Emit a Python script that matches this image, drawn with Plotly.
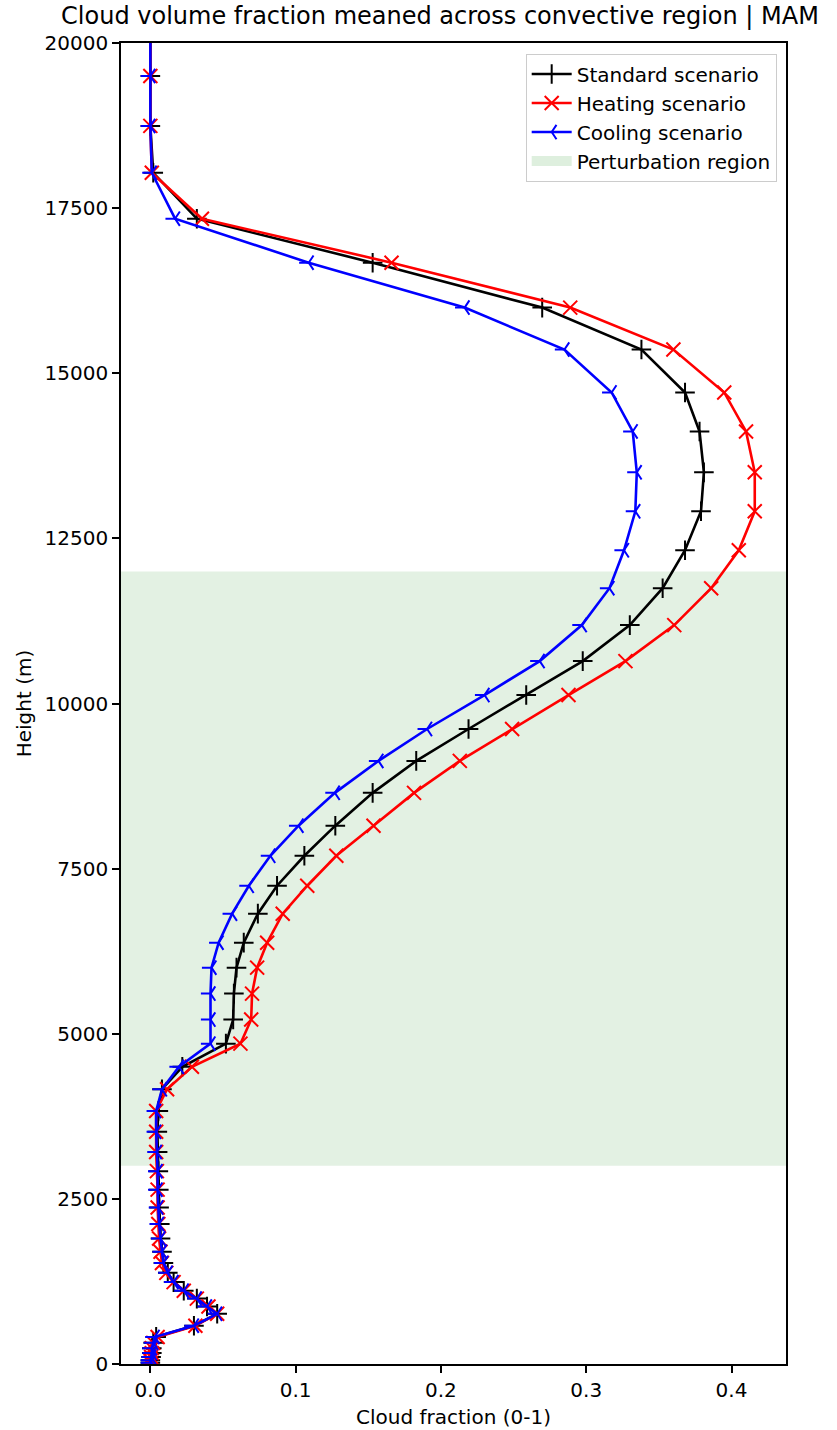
import plotly.graph_objects as go

# Heights of model levels (m)
heights = [20, 55, 105, 165, 240, 320, 410, 580, 760, 870, 990, 1110, 1240, 1380,
           1530, 1700, 1900, 2120, 2370, 2640, 2920, 3210, 3515, 3830, 4160, 4500,
           4850, 5215, 5608, 6001, 6379, 6818, 7241, 7695, 8150, 8647, 9131, 9614,
           10128, 10642, 11187, 11746, 12320, 12910, 13500, 14119, 14709, 15359,
           15994, 16674, 17340, 18035, 18745, 19501, 20250]

standard = [0.0, 0.0, 0.0005, 0.001, 0.001, 0.002, 0.004, 0.030, 0.046, 0.039, 0.032,
            0.023, 0.016, 0.012, 0.009, 0.008, 0.007, 0.0065, 0.006, 0.0058, 0.0055,
            0.005, 0.0048, 0.0055, 0.008, 0.022, 0.052, 0.057, 0.0575, 0.0593, 0.0643,
            0.074, 0.0872, 0.106, 0.1273, 0.153, 0.183, 0.219, 0.2587, 0.2976, 0.330,
            0.3526, 0.368, 0.379, 0.381, 0.378, 0.368, 0.338, 0.2697, 0.153, 0.032,
            0.002, 0.0, 0.0, 0.0]

heating = [0.0, 0.0, 0.0005, 0.001, 0.001, 0.002, 0.005, 0.031, 0.046, 0.040, 0.032,
           0.023, 0.016, 0.011, 0.008, 0.007, 0.006, 0.0055, 0.005, 0.005, 0.0045,
           0.004, 0.004, 0.004, 0.0115, 0.0286, 0.062, 0.0694, 0.070, 0.0735, 0.0804,
           0.0911, 0.108, 0.128, 0.1536, 0.1815, 0.213, 0.249, 0.2878, 0.327, 0.3606,
           0.386, 0.405, 0.416, 0.416, 0.410, 0.395, 0.360, 0.289, 0.166, 0.0355,
           0.001, 0.0, 0.0, 0.0]

cooling = [0.0, 0.0, 0.0005, 0.001, 0.001, 0.002, 0.003, 0.030, 0.046, 0.039, 0.032,
           0.023, 0.016, 0.012, 0.009, 0.008, 0.007, 0.006, 0.0055, 0.005, 0.005,
           0.0045, 0.004, 0.004, 0.008, 0.0197, 0.0414, 0.0414, 0.0414, 0.0421, 0.047,
           0.0563, 0.0678, 0.0826, 0.102, 0.127, 0.157, 0.1905, 0.230, 0.268, 0.297,
           0.316, 0.326, 0.3338, 0.3348, 0.332, 0.3175, 0.285, 0.2163, 0.109, 0.017,
           0.001, 0.0, 0.0, 0.0]

perturbation_bottom = 3000
perturbation_top = 12000

x_range = [-0.0202, 0.4375]
y_range = [0, 20000]
x_ticks = [0.0, 0.1, 0.2, 0.3, 0.4]
y_ticks = [0, 2500, 5000, 7500, 10000, 12500, 15000, 17500, 20000]

FONT = "DejaVu Sans"
GREEN = "rgba(0,128,0,0.11)"

fig = go.Figure()

# shaded perturbation band (legend entry drawn by a separate legend-only trace)
fig.add_trace(go.Scatter(
    x=[x_range[0], x_range[1], x_range[1], x_range[0], x_range[0]],
    y=[perturbation_bottom, perturbation_bottom, perturbation_top, perturbation_top, perturbation_bottom],
    fill="toself", fillcolor=GREEN, mode="lines",
    line=dict(width=0, color=GREEN), showlegend=False, hoverinfo="skip"))

fig.add_trace(go.Scatter(
    x=standard, y=heights, mode="lines+markers", name="Standard scenario",
    line=dict(color="black", width=2.6), legendrank=1,
    marker=dict(symbol="cross-thin", size=14, color="black",
                line=dict(color="black", width=2))))

fig.add_trace(go.Scatter(
    x=heating, y=heights, mode="lines+markers", name="Heating scenario",
    line=dict(color="red", width=2.6), legendrank=2,
    marker=dict(symbol="x-thin", size=14, color="red",
                line=dict(color="red", width=2))))

fig.add_trace(go.Scatter(
    x=cooling, y=heights, mode="lines+markers", name="Cooling scenario",
    line=dict(color="blue", width=2.6), legendrank=3,
    marker=dict(symbol="y-left", size=12, color="blue",
                line=dict(color="blue", width=2))))

fig.add_trace(go.Scatter(
    x=[None], y=[None], mode="lines", name="Perturbation region", legendrank=4,
    line=dict(width=13, color="rgba(0,128,0,0.13)"), hoverinfo="skip"))

axis_common = dict(
    showline=True, linecolor="black", linewidth=1.6, mirror=True,
    ticks="outside", ticklen=7, tickwidth=1.6, tickcolor="black",
    showgrid=False, zeroline=False,
    tickfont=dict(family=FONT, size=20, color="black"),
)

fig.update_xaxes(range=x_range, tickvals=x_ticks, tickformat=".1f",
                 title=dict(text="Cloud fraction (0-1)", font=dict(family=FONT, size=20, color="black"), standoff=9),
                 **axis_common)
fig.update_yaxes(range=y_range, tickvals=y_ticks, tickformat="d",
                 title=dict(text="Height (m)", font=dict(family=FONT, size=20, color="black"), standoff=8),
                 **axis_common)

fig.update_layout(
    width=837, height=1430,
    margin=dict(l=121, r=51, t=43, b=66, autoexpand=False),
    paper_bgcolor="white", plot_bgcolor="white",
    title=dict(text="Cloud volume fraction meaned across convective region | MAM",
               font=dict(family=FONT, size=24, color="black"),
               x=440 / 837, xanchor="center", y=1 - 16 / 1430, yanchor="middle", yref="container"),
    legend=dict(x=0.986, y=0.992, xanchor="right", yanchor="top",
                bgcolor="rgba(255,255,255,0.8)", bordercolor="#cccccc", borderwidth=1,
                font=dict(family=FONT, size=20, color="black"), itemwidth=40),
    font=dict(family=FONT),
)

# remove the browser's default 8px body margin so the figure fills the window exactly
fig.write_html("out.html",
               config={"displayModeBar": False},
               post_script="document.body.style.margin='0px';document.body.style.overflow='hidden';")
